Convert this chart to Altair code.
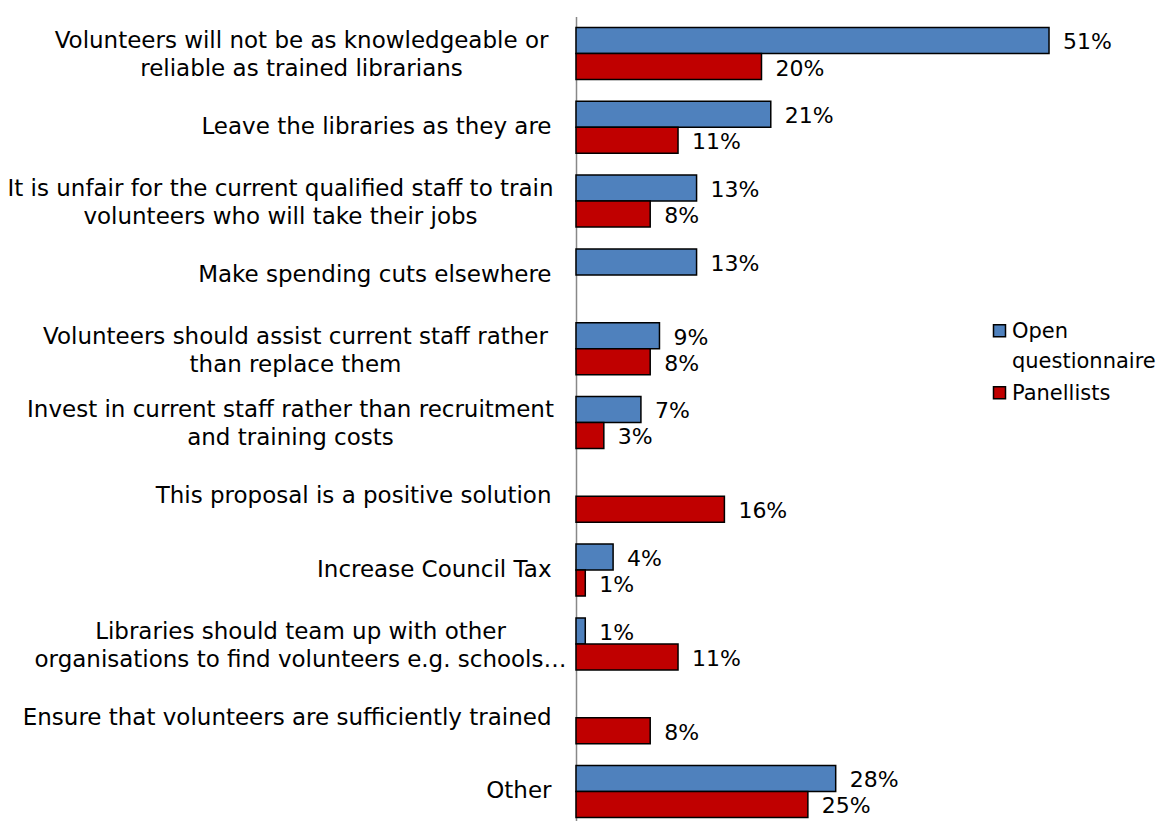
import altair as alt
import pandas as pd

categories = [
    "Volunteers will not be as knowledgeable or\nreliable as trained librarians",
    "Leave the libraries as they are",
    "It is unfair for the current qualified staff to train\nvolunteers who will take their jobs",
    "Make spending cuts elsewhere",
    "Volunteers should assist current staff rather\nthan replace them",
    "Invest in current staff rather than recruitment\nand training costs",
    "This proposal is a positive solution",
    "Increase Council Tax",
    "Libraries should team up with other\norganisations to find volunteers e.g. schools…",
    "Ensure that volunteers are sufficiently trained",
    "Other",
]
series = ["Open questionnaire", "Panellists"]
open_questionnaire = [51, 21, 13, 13, 9, 7, None, 4, 1, None, 28]
panellists = [20, 11, 8, None, 8, 3, 16, 1, 11, 8, 25]
colors = ["#4F81BD", "#C00000"]

rows = []
for cat, a, b in zip(categories, open_questionnaire, panellists):
    if a is not None:
        rows.append({"category": cat, "series": series[0], "value": a})
    if b is not None:
        rows.append({"category": cat, "series": series[1], "value": b})
df = pd.DataFrame(rows)

FONT = "DejaVu Sans"
two_line = "indexof(datum.value, '\\n') >= 0"

# distance from the axis to the centre of each two-line label block (layout only)
block_centre_pad = {0: 275, 2: 296, 4: 281, 5: 286, 8: 276}
pad_conditions = [
    {
        "test": "indexof(datum.value, '%s') == 0" % categories[i].split("\n")[0],
        "value": p,
    }
    for i, p in block_centre_pad.items()
]

y_enc = alt.Y(
    "category:N",
    sort=categories,
    title=None,
    scale=alt.Scale(range=[0, 811.8], paddingInner=0, paddingOuter=0),
    axis=alt.Axis(
        domain=True,
        domainColor="#888888",
        domainWidth=1.5,
        ticks=False,
        grid=False,
        labelExpr="split(datum.label, '\\n')",
        labelFont=FONT,
        labelFontSize=23,
        labelColor="black",
        labelLineHeight=28,
        labelLimit=1000,
        labelBaseline="middle",
        labelAlign={"condition": {"test": two_line, "value": "center"}, "value": "right"},
        labelPadding={"condition": pad_conditions, "value": 25},
        labelOffset={"condition": {"test": two_line, "value": -12}, "value": 0},
    ),
)
yoff = alt.YOffset(
    "series:N", sort=series, scale=alt.Scale(paddingOuter=0.419, paddingInner=0)
)
x_enc = alt.X("value:Q", axis=None, scale=alt.Scale(domain=[0, 60], nice=False))

bars = alt.Chart(df).mark_bar(stroke="black", strokeWidth=1.5).encode(
    y=y_enc,
    yOffset=yoff,
    x=x_enc,
    color=alt.Color(
        "series:N",
        sort=series,
        scale=alt.Scale(domain=series, range=colors),
        legend=alt.Legend(
            title=None,
            orient="none",
            legendX=413,
            legendY=294,
            padding=0,
            labelExpr="split(datum.label, ' ')",
            labelFont=FONT,
            labelFontSize=21,
            labelColor="black",
            labelBaseline="top",
            labelLimit=400,
            labelOffset=2,
            symbolType="M-1,0.6H1V2.6H-1Z",
            symbolSize=144,
            symbolStrokeColor="black",
            symbolStrokeWidth=1.5,
            rowPadding=-8,
        ),
    ),
)

texts = alt.Chart(df).transform_calculate(
    label="datum.value + '%'"
).mark_text(
    align="left", baseline="middle", dx=14, dy=2, font=FONT, fontSize=22, color="black"
).encode(
    y=alt.Y("category:N", sort=categories),
    yOffset=alt.YOffset("series:N", sort=series),
    x=alt.X("value:Q"),
    text="label:N",
)

chart = (
    alt.layer(bars, texts)
    .properties(
        width=556.5,
        height=804,
        autosize=alt.AutoSizeParams(type="none"),
        padding={"left": 568, "top": 8.6, "right": 28, "bottom": 0},
    )
    .configure(font=FONT, style={"guide-label": {"lineHeight": 30}})
    .configure_view(stroke=None)
)

chart.save("out.html", embed_options={"renderer": "svg", "actions": False})
